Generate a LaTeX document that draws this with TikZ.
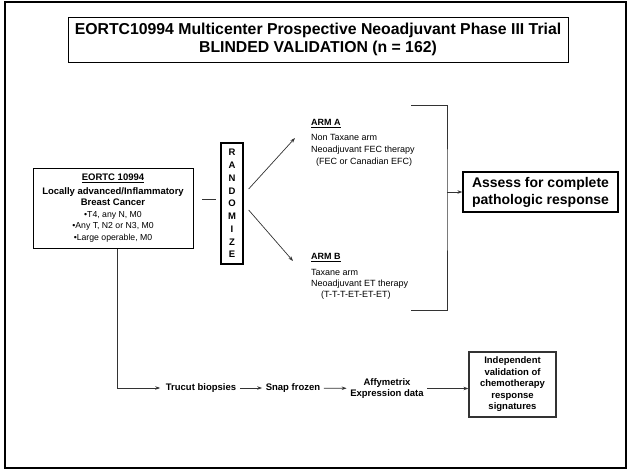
\documentclass[tikz,border=0pt]{standalone}
\usepackage{fontspec}
\setmainfont{Liberation Sans}
\usetikzlibrary{arrows.meta}

\tikzset{
    box/.style={draw, line width=1pt, align=center, inner sep=0pt},
    bold/.style={font=\fontsize{9.5}{11.5}\selectfont\bfseries, inner sep=3.5pt},
    plain/.style={font=\fontsize{9}{12}\selectfont, align=left, inner sep=0pt},
    link/.style={draw=black!80, line width=0.7pt},
}
\newcommand{\crit}[1]{{\fontsize{8.7}{11.5}\selectfont #1}}

\begin{document}
\begin{tikzpicture}[>={Stealth[length=5pt,width=3.5pt]}, x=1pt, y=-1pt]
            \useasboundingbox (0,0) rectangle (629,471);
            \draw[line width=2.5pt] (5,2) rectangle (626,468);
            \node[box, minimum width=500pt, minimum height=45pt, font=\fontsize{15.8}{17.5}\selectfont\bfseries] (title) at (318,39.5) {
                EORTC10994 Multicenter Prospective Neoadjuvant Phase III Trial\\
                BLINDED VALIDATION (n = 162)
            };
            \node[box, minimum width=160pt, minimum height=80pt, font=\fontsize{9.5}{11.5}\selectfont] (cohort) at (113,208) {
                \textbf{\underline{EORTC 10994}}\\[2pt]
                \textbf{Locally advanced/Inflammatory}\\
                \textbf{Breast Cancer}\\
                \crit{\textbullet T4, any N, M0}\\
                \crit{\textbullet Any T, N2 or N3, M0}\\
                \crit{\textbullet Large operable, M0}
            };
            \node[box, line width=1.3pt, minimum width=22pt, minimum height=121pt, font=\fontsize{9.5}{12.75}\selectfont\bfseries] (rand) at (232,203.5) {R\\A\\N\\D\\O\\M\\I\\Z\\E};
            \node[plain, anchor=north west] (armA) at (311,119.5) {
                \textbf{\underline{ARM A}}\\[3pt]
                Non Taxane arm\\
                Neoadjuvant FEC therapy\\
                \hspace{5pt}(FEC or Canadian EFC)
            };
            \node[plain, anchor=north west] (armB) at (311,253.5) {
                \textbf{\underline{ARM B}}\\[4pt]
                Taxane arm\\[-1pt]
                Neoadjuvant ET therapy\\[-1pt]
                \hspace{10pt}(T-T-T-ET-ET-ET)
            };
            \node[box, line width=1.3pt, minimum width=155pt, minimum height=40pt, font=\fontsize{14}{17}\selectfont\bfseries] (assess) at (540.5,192) {
                Assess for complete\\
                pathologic response
            };
            \node[bold] (trucut) at (201,388) {Trucut biopsies};
            \node[bold] (snap) at (293,388) {Snap frozen};
            \node[bold, align=center] (affy) at (387,388.5) {Affymetrix\\Expression data};
            \node[box, draw=black!80, line width=1.2pt, minimum width=87pt, minimum height=65pt, bold, inner sep=0pt] (indep) at (512.5,384.5) {
                Independent\\validation of\\chemotherapy\\response\\signatures
            };
            % randomisation
            \coordinate (split) at (202,199);
            \coordinate (tipA) at (295,138);
            \coordinate (tipB) at (293,261);
            \draw[link, shorten >=4pt] (split) -- (split -| rand.west);
            \draw[link, ->] ([xshift=5pt, yshift=14.5pt]rand.east) -- (tipA);
            \draw[link, ->] ([xshift=5pt, yshift=-6.5pt]rand.east) -- (tipB);
            % bracket to outcome
            \coordinate (brtop) at (411,105);
            \coordinate (brbot) at (411,310);
            \coordinate (brmid) at (447,192);
            \draw[link] (brtop) -| (brmid) |- (brbot);
            \draw[link, ->] (brmid) -- (assess.west);
            % sample processing
            \draw[link, ->, shorten >=2pt] ([xshift=4pt]cohort.south) |- (trucut.west);
            \draw[link, ->] (trucut) -- (snap);
            \draw[link, ->] (snap) -- (affy);
            \draw[link, ->] (affy.east) -- (affy.east -| indep.west);
        \end{tikzpicture}
\end{document}
